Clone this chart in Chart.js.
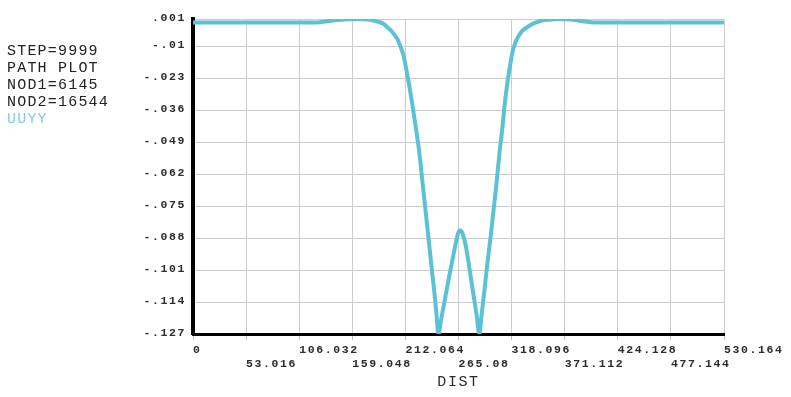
<!DOCTYPE html>
<html lang="en">
<head>
    <meta charset="UTF-8">
    <title>UUYY path plot</title>
    <script src="https://cdn.jsdelivr.net/npm/chart.js"></script>
    <style>
        body { margin: 0; background: #fff; }
        .wrap { position: relative; width: 791px; height: 397px; }
        canvas { position: absolute; left: 0; top: 0; }
        .info {
            position: absolute; left: 7px; top: 43px;
            font-family: "Liberation Mono", monospace; font-size: 15px;
            line-height: 17px; letter-spacing: 1.2px; color: #222;
        }
        .info .uy { color: #7fcfdc; }
    </style>
</head>
<body>
<div class="wrap">
    <canvas id="pathChart" width="791" height="397"></canvas>
    <div class="info">
        <div>STEP=9999</div>
        <div>PATH PLOT</div>
        <div>NOD1=6145</div>
        <div>NOD2=16544</div>
        <div class="uy">UUYY</div>
    </div>
</div>

<script>
    // distance along path and UY displacement
    const dist = [0, 30, 60, 90, 120, 127, 132, 138, 145, 155, 165, 175, 182, 187, 191, 194, 199, 204,
        207, 210, 212, 214, 217, 220, 223, 226, 229, 232, 235, 238, 241, 243, 245,
        248, 251, 254, 257, 260, 262, 264, 266, 268, 270, 272, 274, 277, 280, 283, 286,
        288, 291, 294, 297, 300, 303, 306, 309, 311, 314, 317, 319, 321, 323, 326, 329, 333,
        340, 347, 355, 364, 377, 387, 397, 403, 430, 460, 490, 530.164];
    const uuyy = [-0.0004, -0.0004, -0.0004, -0.0004, -0.0004, -0.0003, 0.0000, 0.0003, 0.0006, 0.0009,
        0.0010, 0.0008, 0.0002, -0.0004, -0.0012, -0.0023, -0.0043, -0.0071,
        -0.0100, -0.0136, -0.0173, -0.0218, -0.0287, -0.0364, -0.0445, -0.0534, -0.0648, -0.0762,
        -0.0876, -0.0990, -0.1103, -0.1185, -0.1270,
        -0.1205, -0.1140, -0.1075, -0.1010, -0.0949, -0.0908, -0.0870, -0.0849, -0.0852, -0.0872,
        -0.0905, -0.0950, -0.1030, -0.1110, -0.1189, -0.1270,
        -0.1197, -0.1091, -0.0981, -0.0880, -0.0770, -0.0660, -0.0534, -0.0429, -0.0344, -0.0246,
        -0.0169, -0.0124, -0.0096, -0.0075, -0.0053, -0.0037, -0.0025,
        -0.0008, 0.0002, 0.0007, 0.0010, 0.0008, 0.0002, -0.0003, -0.0004, -0.0004, -0.0004,
        -0.0004, -0.0004];

    const xTicks = [0, 53.016, 106.032, 159.048, 212.064, 265.08, 318.096, 371.112, 424.128, 477.144, 530.164];
    const xLabels = ['0', '53.016', '106.032', '159.048', '212.064', '265.08', '318.096', '371.112', '424.128', '477.144', '530.164'];
    const yTicks = [-0.127, -0.114, -0.101, -0.088, -0.075, -0.062, -0.049, -0.036, -0.023, -0.01, 0.001];
    const yLabels = ['-.127', '-.114', '-.101', '-.088', '-.075', '-.062', '-.049', '-.036', '-.023', '-.01', '.001'];

    const points = dist.map((d, i) => ({ x: d, y: uuyy[i] }));

    // ANSYS style wide-spaced text
    const spacing = {
        id: 'spacing',
        beforeUpdate(chart) { chart.ctx.letterSpacing = '1.6px'; },
        beforeDraw(chart) { chart.ctx.letterSpacing = '1.6px'; }
    };

    const tickFont = { family: 'Liberation Mono', size: 11.5, weight: 'bold', lineHeight: 1.22 };

    new Chart(document.getElementById('pathChart'), {
        type: 'line',
        data: {
            datasets: [{
                label: 'UUYY',
                data: points,
                borderColor: '#5bc2d6',
                borderWidth: 4,
                pointRadius: 0,
                cubicInterpolationMode: 'monotone',
                fill: false
            }]
        },
        plugins: [spacing],
        options: {
            responsive: false,
            animation: false,
            layout: { padding: 0 },
            plugins: { legend: { display: false }, tooltip: { enabled: false } },
            scales: {
                x: {
                    type: 'linear',
                    min: 0,
                    max: 530.164,
                    afterBuildTicks: s => { s.ticks = xTicks.map(v => ({ value: v })); },
                    afterFit: s => { s.height = 63; s.paddingLeft = 0; s.paddingRight = 67; },
                    grid: { color: '#cdcdcd', lineWidth: 1, drawTicks: true, tickLength: 6, tickColor: '#bdbdbd' },
                    border: { color: '#000', width: 3 },
                    ticks: {
                        autoSkip: false,
                        maxRotation: 0,
                        align: 'start',
                        padding: 3,
                        color: '#2b2b2b',
                        font: tickFont,
                        callback: (v, i) => i % 2 === 0 ? [xLabels[i], ''] : ['', xLabels[i]]
                    },
                    title: {
                        display: true,
                        text: 'DIST',
                        color: '#2b2b2b',
                        font: { family: 'Liberation Mono', size: 15, lineHeight: 1.2 },
                        padding: { top: 0, bottom: 6 }
                    }
                },
                y: {
                    type: 'linear',
                    min: -0.127,
                    max: 0.001,
                    afterBuildTicks: s => { s.ticks = yTicks.map(v => ({ value: v })); },
                    afterFit: s => { s.width = 193; s.paddingTop = 19; s.paddingBottom = 0; },
                    grid: { color: '#cdcdcd', lineWidth: 1, drawTicks: false },
                    border: { color: '#000', width: 4 },
                    ticks: {
                        autoSkip: false,
                        padding: 7,
                        labelOffset: -1,
                        color: '#2b2b2b',
                        font: tickFont,
                        callback: (v, i) => yLabels[i]
                    }
                }
            }
        }
    });
</script>
</body>
</html>
